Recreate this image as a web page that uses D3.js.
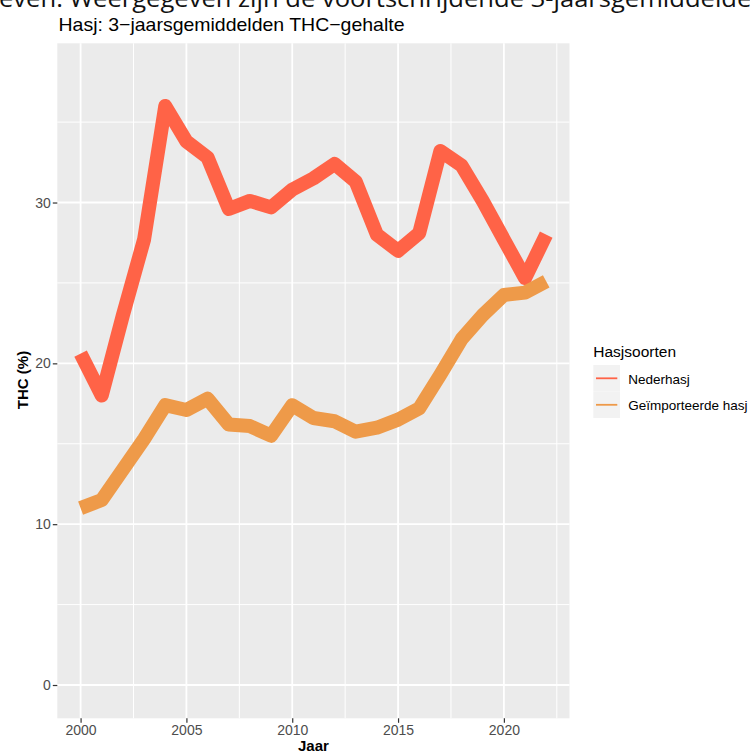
<!DOCTYPE html>
<html>
<head>
<meta charset="utf-8">
<script src="https://cdn.jsdelivr.net/npm/d3@7"></script>
<style>
  body { margin: 0; background: #fff; }
  svg { display: block; font-family: "Liberation Sans", Arial, sans-serif; }
</style>
</head>
<body>
<svg id="chart" width="750" height="755"></svg>
<script>
// data (3-year moving averages, THC %)
var years = [2000, 2001, 2002, 2003, 2004, 2005, 2006, 2007, 2008, 2009, 2010, 2011,
             2012, 2013, 2014, 2015, 2016, 2017, 2018, 2019, 2020, 2021, 2022];
var nederhasj = [20.6, 18.0, 23.0, 27.7, 36.0, 33.8, 32.8, 29.6, 30.1, 29.7, 30.8, 31.5,
                 32.4, 31.3, 28.0, 27.0, 28.1, 33.2, 32.3, 30.1, 27.7, 25.3, 28.0];
var geimporteerd = [11.0, 11.5, 13.4, 15.3, 17.4, 17.1, 17.8, 16.2, 16.1, 15.5, 17.4, 16.6,
                    16.4, 15.75, 16.0, 16.5, 17.2, 19.3, 21.5, 23.0, 24.25, 24.4, 25.1];
var seriesNames = ["Nederhasj", "Geïmporteerde hasj"];
var seriesColors = ["#FF6347", "#EE9A49"];
var xTicks = [2000, 2005, 2010, 2015, 2020];
var xMinor = [2002.5, 2007.5, 2012.5, 2017.5, 2022.5];
var yTicks = [0, 10, 20, 30];
var yMinor = [5, 15, 25, 35];

var svg = d3.select("#chart");

// page text cut off above the figure (cut in the original too)
svg.append("text")
  .attr("x", -1).attr("y", 7)
  .attr("textLength", 768).attr("lengthAdjust", "spacingAndGlyphs")
  .style("font-family", "'Open Sans', sans-serif")
  .style("font-size", "24px").style("fill", "#111")
  .text("even. Weergegeven zijn de voortschrijdende 3-jaarsgemiddelden");

var panel = { left: 57.3, right: 569.5, top: 43.3, bottom: 718.3 };

var x = d3.scaleLinear().domain([1998.9, 2023.1]).range([panel.left, panel.right]);
var y = d3.scaleLinear().domain([-2.07, 39.9]).range([panel.bottom, panel.top]);

// panel background
svg.append("rect")
  .attr("x", panel.left).attr("y", panel.top)
  .attr("width", panel.right - panel.left).attr("height", panel.bottom - panel.top)
  .attr("fill", "#EBEBEB");

var grid = svg.append("g");
grid.selectAll(".ymin").data(yMinor).enter().append("line")
  .attr("x1", panel.left).attr("x2", panel.right)
  .attr("y1", d => y(d)).attr("y2", d => y(d))
  .attr("stroke", "#fff").attr("stroke-width", 1);
grid.selectAll(".xmin").data(xMinor).enter().append("line")
  .attr("y1", panel.top).attr("y2", panel.bottom)
  .attr("x1", d => x(d)).attr("x2", d => x(d))
  .attr("stroke", "#fff").attr("stroke-width", 1);
grid.selectAll(".ymaj").data(yTicks).enter().append("line")
  .attr("x1", panel.left).attr("x2", panel.right)
  .attr("y1", d => y(d)).attr("y2", d => y(d))
  .attr("stroke", "#fff").attr("stroke-width", 1.8);
grid.selectAll(".xmaj").data(xTicks).enter().append("line")
  .attr("y1", panel.top).attr("y2", panel.bottom)
  .attr("x1", d => x(d)).attr("x2", d => x(d))
  .attr("stroke", "#fff").attr("stroke-width", 1.8);

// the two lines
var line = d3.line().x(d => x(d[0])).y(d => y(d[1]));
[nederhasj, geimporteerd].forEach(function (vals, i) {
  svg.append("path")
    .datum(years.map((yr, k) => [yr, vals[k]]))
    .attr("d", line)
    .attr("fill", "none")
    .attr("stroke", seriesColors[i])
    .attr("stroke-width", 14)
    .attr("stroke-linejoin", "round")
    .attr("stroke-linecap", "butt");
});

// axes
var xAxis = svg.append("g")
  .attr("transform", "translate(0," + panel.bottom + ")")
  .call(d3.axisBottom(x).tickValues(xTicks).tickFormat(d3.format("d")).tickSize(4.5).tickPadding(2));
var yAxis = svg.append("g")
  .attr("transform", "translate(" + panel.left + ",0)")
  .call(d3.axisLeft(y).tickValues(yTicks).tickSize(4.5).tickPadding(2));
[xAxis, yAxis].forEach(function (a) {
  a.select(".domain").remove();
  a.selectAll(".tick line").attr("stroke", "#333").attr("stroke-width", 1.2);
  a.selectAll(".tick text")
    .style("font-family", "'Liberation Sans', Arial, sans-serif")
    .style("font-size", "14px").attr("fill", "#4D4D4D");
});

// titles
svg.append("text")
  .attr("x", 58.5).attr("y", 30.5)
  .attr("textLength", 346).attr("lengthAdjust", "spacingAndGlyphs")
  .style("font-size", "18.5px").attr("fill", "#000")
  .text("Hasj: 3\u2212jaarsgemiddelden THC\u2212gehalte");

svg.append("text")
  .attr("x", (panel.left + panel.right) / 2).attr("y", 751)
  .attr("text-anchor", "middle")
  .style("font-size", "15px").style("font-weight", "bold")
  .text("Jaar");

svg.append("text")
  .attr("transform", "translate(28,380) rotate(-90)")
  .attr("text-anchor", "middle")
  .style("font-size", "15px").style("font-weight", "bold")
  .text("THC (%)");

// legend
var legend = svg.append("g").attr("transform", "translate(593.3,0)");
legend.append("text")
  .attr("x", 0).attr("y", 357)
  .style("font-size", "15.5px")
  .text("Hasjsoorten");
var keys = legend.selectAll(".key").data(seriesNames).enter().append("g")
  .attr("transform", (d, i) => "translate(0," + (365 + i * 26.5) + ")");
keys.append("rect")
  .attr("width", 26.7).attr("height", 26.5)
  .attr("fill", "#F2F2F2");
keys.append("line")
  .attr("x1", 2.7).attr("x2", 24).attr("y1", 13.3).attr("y2", 13.3)
  .attr("stroke", (d, i) => seriesColors[i]).attr("stroke-width", 1.8);
keys.append("text")
  .attr("x", 35).attr("y", 18.5)
  .style("font-size", "13.5px")
  .text(d => d);
</script>
</body>
</html>
